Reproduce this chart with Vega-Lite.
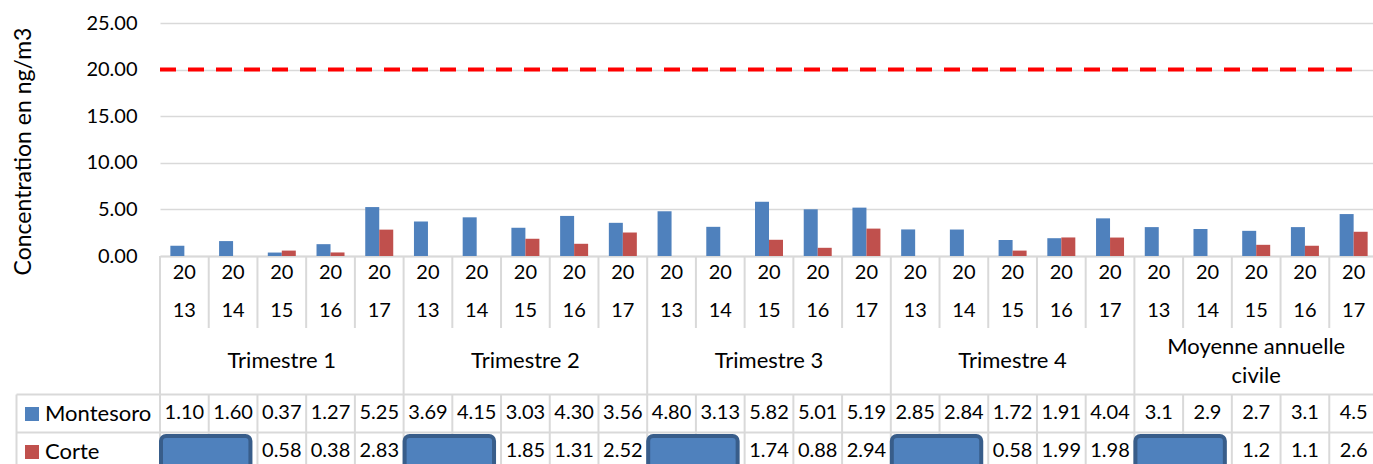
{
  "$schema": "https://vega.github.io/schema/vega-lite/v6.json",
  "padding": {"left": 12, "top": 13, "right": 0, "bottom": 0},
  "config": {
    "font": "Lato",
    "view": {"stroke": null},
    "text": {"color": "#000000"}
  },
  "datasets": {
    "cellules": [
      {"cat": "1-2013", "an": "20\n13"}, {"cat": "1-2014", "an": "20\n14"}, {"cat": "1-2015", "an": "20\n15"}, {"cat": "1-2016", "an": "20\n16"}, {"cat": "1-2017", "an": "20\n17"},
      {"cat": "2-2013", "an": "20\n13"}, {"cat": "2-2014", "an": "20\n14"}, {"cat": "2-2015", "an": "20\n15"}, {"cat": "2-2016", "an": "20\n16"}, {"cat": "2-2017", "an": "20\n17"},
      {"cat": "3-2013", "an": "20\n13"}, {"cat": "3-2014", "an": "20\n14"}, {"cat": "3-2015", "an": "20\n15"}, {"cat": "3-2016", "an": "20\n16"}, {"cat": "3-2017", "an": "20\n17"},
      {"cat": "4-2013", "an": "20\n13"}, {"cat": "4-2014", "an": "20\n14"}, {"cat": "4-2015", "an": "20\n15"}, {"cat": "4-2016", "an": "20\n16"}, {"cat": "4-2017", "an": "20\n17"},
      {"cat": "5-2013", "an": "20\n13"}, {"cat": "5-2014", "an": "20\n14"}, {"cat": "5-2015", "an": "20\n15"}, {"cat": "5-2016", "an": "20\n16"}, {"cat": "5-2017", "an": "20\n17"}
    ],
    "mesures": [
      {"cat": "1-2013", "serie": "Montesoro", "val": 1.10, "txt": "1.10"},
      {"cat": "1-2014", "serie": "Montesoro", "val": 1.60, "txt": "1.60"},
      {"cat": "1-2015", "serie": "Montesoro", "val": 0.37, "txt": "0.37"},
      {"cat": "1-2016", "serie": "Montesoro", "val": 1.27, "txt": "1.27"},
      {"cat": "1-2017", "serie": "Montesoro", "val": 5.25, "txt": "5.25"},
      {"cat": "2-2013", "serie": "Montesoro", "val": 3.69, "txt": "3.69"},
      {"cat": "2-2014", "serie": "Montesoro", "val": 4.15, "txt": "4.15"},
      {"cat": "2-2015", "serie": "Montesoro", "val": 3.03, "txt": "3.03"},
      {"cat": "2-2016", "serie": "Montesoro", "val": 4.30, "txt": "4.30"},
      {"cat": "2-2017", "serie": "Montesoro", "val": 3.56, "txt": "3.56"},
      {"cat": "3-2013", "serie": "Montesoro", "val": 4.80, "txt": "4.80"},
      {"cat": "3-2014", "serie": "Montesoro", "val": 3.13, "txt": "3.13"},
      {"cat": "3-2015", "serie": "Montesoro", "val": 5.82, "txt": "5.82"},
      {"cat": "3-2016", "serie": "Montesoro", "val": 5.01, "txt": "5.01"},
      {"cat": "3-2017", "serie": "Montesoro", "val": 5.19, "txt": "5.19"},
      {"cat": "4-2013", "serie": "Montesoro", "val": 2.85, "txt": "2.85"},
      {"cat": "4-2014", "serie": "Montesoro", "val": 2.84, "txt": "2.84"},
      {"cat": "4-2015", "serie": "Montesoro", "val": 1.72, "txt": "1.72"},
      {"cat": "4-2016", "serie": "Montesoro", "val": 1.91, "txt": "1.91"},
      {"cat": "4-2017", "serie": "Montesoro", "val": 4.04, "txt": "4.04"},
      {"cat": "5-2013", "serie": "Montesoro", "val": 3.1, "txt": "3.1"},
      {"cat": "5-2014", "serie": "Montesoro", "val": 2.9, "txt": "2.9"},
      {"cat": "5-2015", "serie": "Montesoro", "val": 2.7, "txt": "2.7"},
      {"cat": "5-2016", "serie": "Montesoro", "val": 3.1, "txt": "3.1"},
      {"cat": "5-2017", "serie": "Montesoro", "val": 4.5, "txt": "4.5"},
      {"cat": "1-2015", "serie": "Corte", "val": 0.58, "txt": "0.58"},
      {"cat": "1-2016", "serie": "Corte", "val": 0.38, "txt": "0.38"},
      {"cat": "1-2017", "serie": "Corte", "val": 2.83, "txt": "2.83"},
      {"cat": "2-2015", "serie": "Corte", "val": 1.85, "txt": "1.85"},
      {"cat": "2-2016", "serie": "Corte", "val": 1.31, "txt": "1.31"},
      {"cat": "2-2017", "serie": "Corte", "val": 2.52, "txt": "2.52"},
      {"cat": "3-2015", "serie": "Corte", "val": 1.74, "txt": "1.74"},
      {"cat": "3-2016", "serie": "Corte", "val": 0.88, "txt": "0.88"},
      {"cat": "3-2017", "serie": "Corte", "val": 2.94, "txt": "2.94"},
      {"cat": "4-2015", "serie": "Corte", "val": 0.58, "txt": "0.58"},
      {"cat": "4-2016", "serie": "Corte", "val": 1.99, "txt": "1.99"},
      {"cat": "4-2017", "serie": "Corte", "val": 1.98, "txt": "1.98"},
      {"cat": "5-2015", "serie": "Corte", "val": 1.2, "txt": "1.2"},
      {"cat": "5-2016", "serie": "Corte", "val": 1.1, "txt": "1.1"},
      {"cat": "5-2017", "serie": "Corte", "val": 2.6, "txt": "2.6"}
    ],
    "groupes": [
      {"nom": "Trimestre 1", "debut": "1-2013", "milieu": "1-2015", "fin": "1-2017"},
      {"nom": "Trimestre 2", "debut": "2-2013", "milieu": "2-2015", "fin": "2-2017"},
      {"nom": "Trimestre 3", "debut": "3-2013", "milieu": "3-2015", "fin": "3-2017"},
      {"nom": "Trimestre 4", "debut": "4-2013", "milieu": "4-2015", "fin": "4-2017"},
      {"nom": "Moyenne annuelle\ncivile", "debut": "5-2013", "milieu": "5-2015", "fin": "5-2017"}
    ],
    "masques": [
      {"debut": "1-2013", "fin": "1-2014", "serie": "Corte"},
      {"debut": "2-2013", "fin": "2-2014", "serie": "Corte"},
      {"debut": "3-2013", "fin": "3-2014", "serie": "Corte"},
      {"debut": "4-2013", "fin": "4-2014", "serie": "Corte"},
      {"debut": "5-2013", "fin": "5-2014", "serie": "Corte"}
    ],
    "seuil": [
      {"debut": "1-2013", "fin": "5-2017", "valeur": 20}
    ]
  },
  "resolve": {"scale": {"x": "shared"}},
  "spacing": 0,
  "bounds": "flush",
  "vconcat": [
    {
      "width": 1218,
      "height": 233,
      "layer": [
        {
          "data": {"name": "mesures"},
          "mark": {"type": "bar"},
          "encoding": {
            "x": {"field": "cat", "type": "nominal", "scale": {"paddingInner": 0, "paddingOuter": 0},
                  "axis": {"labels": false, "ticks": false, "domain": true, "domainColor": "#d9d9d9", "domainWidth": 2, "title": null, "grid": false}},
            "xOffset": {"field": "serie", "type": "nominal", "sort": ["Montesoro", "Corte"], "scale": {"paddingInner": 0, "paddingOuter": 0.74}},
            "y": {"field": "val", "type": "quantitative", "stack": null, "scale": {"domain": [0, 25], "nice": false},
                  "axis": {"title": "Concentration en ng/m3", "values": [0, 5, 10, 15, 20, 25], "format": ".2f",
                           "grid": true, "gridColor": "#d9d9d9", "gridWidth": 1.5, "domain": false, "ticks": false,
                           "labelFontSize": 20, "labelPadding": 23, "labelColor": "#000000",
                           "titleFontSize": 23, "titleFontWeight": "normal", "titleColor": "#000000", "titlePadding": 50, "titleY": 128}},
            "color": {"field": "serie", "type": "nominal", "sort": ["Montesoro", "Corte"],
                      "scale": {"domain": ["Montesoro", "Corte"], "range": ["#4f81bd", "#c0504d"]},
                      "legend": {"orient": "none", "legendX": -139, "legendY": 380, "title": null, "symbolType": "square",
                                 "symbolSize": 196, "symbolStrokeWidth": 0, "labelFontSize": 22, "labelColor": "#000000",
                                 "rowPadding": 16, "labelOffset": 2, "padding": 0}}
          }
        },
        {
          "data": {"name": "seuil"},
          "mark": {"type": "rule", "color": "#ff0000", "strokeWidth": 4, "strokeDash": [16, 12]},
          "encoding": {
            "x": {"field": "debut", "type": "nominal", "bandPosition": 0},
            "x2": {"field": "fin", "bandPosition": 0.5},
            "y": {"field": "valeur", "type": "quantitative"}
          }
        }
      ]
    },
    {
      "width": 1218,
      "height": 72,
      "data": {"name": "cellules"},
      "layer": [
        {
          "mark": {"type": "text", "fontSize": 20, "lineBreak": "\n", "lineHeight": 38, "baseline": "middle", "dy": -19, "color": "#000000"},
          "encoding": {
            "x": {"field": "cat", "type": "nominal", "axis": null, "scale": {"paddingInner": 0, "paddingOuter": 0}},
            "text": {"field": "an"}
          }
        },
        {
          "mark": {"type": "rule", "color": "#d9d9d9", "strokeWidth": 2},
          "encoding": {"x": {"field": "cat", "type": "nominal", "bandPosition": 0}}
        },
        {
          "transform": [{"filter": "datum.cat == '5-2017'"}],
          "mark": {"type": "rule", "color": "#d9d9d9", "strokeWidth": 2},
          "encoding": {"x": {"field": "cat", "type": "nominal", "bandPosition": 1}}
        }
      ]
    },
    {
      "width": 1218,
      "height": 66,
      "data": {"name": "groupes"},
      "layer": [
        {
          "transform": [{"filter": "datum.fin != '5-2017'"}],
          "mark": {"type": "text", "fontSize": 22, "baseline": "middle", "color": "#000000"},
          "encoding": {
            "x": {"field": "milieu", "type": "nominal", "axis": null},
            "text": {"field": "nom"}
          }
        },
        {
          "transform": [{"filter": "datum.fin == '5-2017'"}],
          "mark": {"type": "text", "fontSize": 22, "lineBreak": "\n", "lineHeight": 29, "baseline": "middle", "dy": -14.5, "color": "#000000"},
          "encoding": {
            "x": {"field": "milieu", "type": "nominal"},
            "text": {"field": "nom"}
          }
        },
        {
          "mark": {"type": "rule", "color": "#d9d9d9", "strokeWidth": 2},
          "encoding": {"x": {"field": "debut", "type": "nominal", "bandPosition": 0}}
        },
        {
          "transform": [{"filter": "datum.fin == '5-2017'"}],
          "mark": {"type": "rule", "color": "#d9d9d9", "strokeWidth": 2},
          "encoding": {"x": {"field": "fin", "type": "nominal", "bandPosition": 1}}
        }
      ]
    },
    {
      "width": 1218,
      "height": 76,
      "layer": [
        {
          "data": {"name": "mesures"},
          "mark": {"type": "text", "fontSize": 20, "baseline": "middle", "color": "#000000"},
          "encoding": {
            "x": {"field": "cat", "type": "nominal", "axis": null},
            "y": {"field": "serie", "type": "nominal", "sort": ["Montesoro", "Corte"], "scale": {"domain": ["Montesoro", "Corte"], "paddingInner": 0, "paddingOuter": 0},
                  "axis": {"orient": "left", "offset": 144, "domain": true, "domainColor": "#d9d9d9", "domainWidth": 2,
                           "ticks": true, "tickBand": "extent", "tickSize": -1362, "tickColor": "#d9d9d9", "tickWidth": 2,
                           "labels": false, "title": null, "grid": false}},
            "text": {"field": "txt"}
          }
        },
        {
          "data": {"name": "cellules"},
          "mark": {"type": "rule", "color": "#d9d9d9", "strokeWidth": 2},
          "encoding": {"x": {"field": "cat", "type": "nominal", "bandPosition": 0}}
        },
        {
          "data": {"name": "masques"},
          "mark": {"type": "rect", "fill": "#4f81bd", "stroke": "#385d8a", "strokeWidth": 4, "cornerRadius": 5, "xOffset": 1, "x2Offset": -7, "yOffset": 4},
          "encoding": {
            "x": {"field": "debut", "type": "nominal", "bandPosition": 0},
            "x2": {"field": "fin", "bandPosition": 1},
            "y": {"field": "serie", "type": "nominal"}
          }
        }
      ]
    }
  ]
}
